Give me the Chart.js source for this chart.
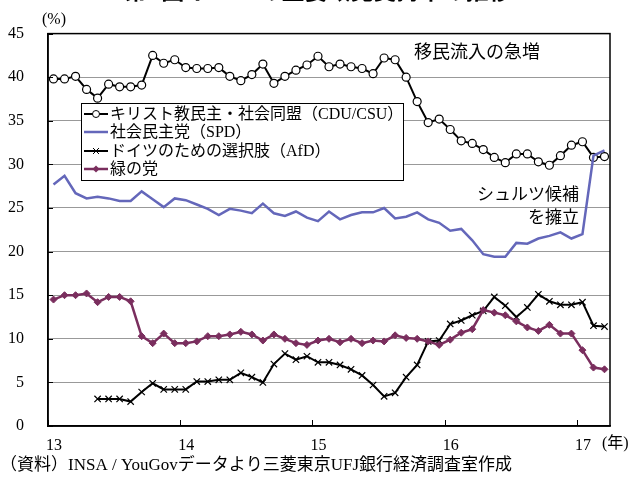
<!DOCTYPE html>
<html>
<head>
<meta charset="utf-8">
<script src="https://cdn.jsdelivr.net/npm/chart.js@4.4.1/dist/chart.umd.min.js"></script>
<style>
  html, body { margin: 0; padding: 0; background: #fff; }
  #wrap { width: 633px; height: 479px; }
</style>
</head>
<body>
<div id="wrap"><canvas id="chart" width="633" height="479"></canvas></div>
<script>
// monthly polls, Jan 2013 .. Mar 2017
var seriesNames = ['キリスト教民主・社会同盟（CDU/CSU）', '社会民主党（SPD）', 'ドイツのための選択肢（AfD）', '緑の党'];

var cdu = [39.8, 39.8, 40.1, 38.6, 37.6, 39.2, 38.9, 38.9, 39.1, 42.5, 41.6, 42.0,
           41.1, 41.0, 41.0, 41.1, 40.1, 39.6, 40.3, 41.5, 39.3, 40.1, 40.8, 41.4,
           42.4, 41.2, 41.5, 41.2, 41.0, 40.4, 42.2, 42.0, 40.0, 37.2, 34.8, 35.2,
           34.0, 32.7, 32.4, 31.7, 30.8, 30.2, 31.2, 31.2, 30.3, 29.9, 31.0, 32.2,
           32.6, 30.8, 30.9];
var spd = [27.7, 28.7, 26.7, 26.1, 26.3, 26.1, 25.8, 25.8, 26.9, 26.0, 25.1, 26.1,
           25.9, 25.4, 24.9, 24.2, 24.9, 24.7, 24.4, 25.5, 24.4, 24.1, 24.6, 23.9,
           23.5, 24.6, 23.7, 24.2, 24.5, 24.5, 25.0, 23.8, 24.0, 24.5, 23.7, 23.3,
           22.4, 22.6, 21.3, 19.7, 19.4, 19.4, 21.0, 20.9, 21.5, 21.8, 22.2, 21.5,
           22.0, 31.0, 31.6];
var afd = [null, null, null, null, 3.1, 3.1, 3.1, 2.8, 3.9, 4.9, 4.2, 4.2,
           4.2, 5.1, 5.1, 5.3, 5.3, 6.1, 5.6, 5.0, 7.1, 8.3, 7.6, 8.0,
           7.3, 7.3, 7.0, 6.5, 5.8, 4.7, 3.4, 3.8, 5.6, 7.0, 9.7, 9.8,
           11.7, 12.1, 12.7, 13.2, 14.8, 13.8, 12.5, 13.6, 15.1, 14.3, 13.9, 13.9,
           14.2, 11.5, 11.4];
var greens = [14.5, 15.0, 15.0, 15.2, 14.2, 14.8, 14.8, 14.3, 10.3, 9.5, 10.6, 9.5,
              9.5, 9.7, 10.3, 10.3, 10.5, 10.8, 10.5, 9.8, 10.5, 10.0, 9.5, 9.3,
              9.8, 10.0, 9.6, 10.0, 9.5, 9.8, 9.7, 10.4, 10.1, 10.0, 9.7, 9.3,
              9.9, 10.7, 11.1, 13.3, 13.0, 12.7, 12.0, 11.3, 10.9, 11.6, 10.6, 10.6,
              8.7, 6.7, 6.5];

var yearTicks = [0, 12, 24, 36, 48];      // month index of each January
var yearLabels = ['13', '14', '15', '16', '17'];

// each poll sits in the middle of its month
function pts(arr) {
  return arr.map(function (v, i) { return { x: i + 0.5, y: v }; });
}

var serif = "'Liberation Serif', 'Noto Sans CJK JP', serif";
var gothic = "'Noto Sans CJK JP', sans-serif";

var colCdu = '#000000', colSpd = '#6467BA', colAfd = '#000000', colGreen = '#7A2E5E';

var decor = {
  id: 'decor',
  afterDraw: function (chart) {
    var c = chart.ctx, a = chart.chartArea;
    var xs = chart.scales.x, ys = chart.scales.y;
    c.save();
    c.setLineDash([]);

    // frame
    c.strokeStyle = '#000';
    c.lineWidth = 1.5;
    c.strokeRect(a.left, a.top, a.right - a.left, a.bottom - a.top);

    // inward tick marks
    c.lineWidth = 1;
    yearTicks.forEach(function (t) {
      var px = Math.round(xs.getPixelForValue(t)) + 0.5;
      c.beginPath(); c.moveTo(px, a.bottom); c.lineTo(px, a.bottom - 6); c.stroke();
    });
    ys.ticks.forEach(function (t) {
      var py = Math.round(ys.getPixelForValue(t.value)) + 0.5;
      c.beginPath(); c.moveTo(a.left, py); c.lineTo(a.left + 5, py); c.stroke();
    });

    // title (cut off at the top of the picture)
    c.fillStyle = '#000';
    c.font = 'bold 23px ' + gothic;
    c.textAlign = 'center';
    c.textBaseline = 'alphabetic';
    c.fillText('第5図 ドイツの主要政党支持率の推移', 318, -1);

    // units
    c.font = '16px ' + serif;
    c.textAlign = 'left';
    c.textBaseline = 'middle';
    c.fillText('(%)', 42, 20);
    c.fillText('(年)', 602, 444);

    // source
    c.font = '17px ' + serif;
    c.fillText('（資料）INSA / YouGovデータより三菱東京UFJ銀行経済調査室作成', 0, 466);

    // annotations
    c.font = '18px ' + gothic;
    c.fillText('移民流入の急増', 414, 51);
    c.font = '17px ' + gothic;
    c.textAlign = 'right';
    c.fillText('シュルツ候補', 579, 194);
    c.fillText('を擁立', 579, 217);

    // legend box
    var bx = 81, by = 103, bw = 322, bh = 77;
    c.fillStyle = '#fff';
    c.fillRect(bx, by, bw, bh);
    c.strokeStyle = '#000';
    c.lineWidth = 1;
    c.strokeRect(bx + 0.5, by + 0.5, bw, bh);
    var rows = [114, 132, 151, 169];
    var styles = [
      { col: colCdu, w: 2, mark: 'circle' },
      { col: colSpd, w: 2.5, mark: null },
      { col: colAfd, w: 2, mark: 'cross' },
      { col: colGreen, w: 2.5, mark: 'diamond' }
    ];
    rows.forEach(function (ry, i) {
      var s = styles[i];
      c.strokeStyle = s.col;
      c.lineWidth = s.w;
      c.beginPath(); c.moveTo(84, ry); c.lineTo(108, ry); c.stroke();
      c.lineWidth = 1;
      if (s.mark === 'circle') {
        c.fillStyle = '#fff';
        c.beginPath(); c.arc(96, ry, 3.5, 0, Math.PI * 2); c.fill(); c.stroke();
      } else if (s.mark === 'cross') {
        c.beginPath();
        c.moveTo(93, ry - 3); c.lineTo(99, ry + 3);
        c.moveTo(99, ry - 3); c.lineTo(93, ry + 3);
        c.stroke();
      } else if (s.mark === 'diamond') {
        c.fillStyle = s.col;
        c.beginPath();
        c.moveTo(96, ry - 3.5); c.lineTo(99.5, ry); c.lineTo(96, ry + 3.5); c.lineTo(92.5, ry);
        c.closePath(); c.fill();
      }
      c.fillStyle = '#000';
      c.font = '16px ' + serif;
      c.textAlign = 'left';
      c.textBaseline = 'middle';
      c.fillText(seriesNames[i], 110, ry + 1);
    });

    c.restore();
  }
};

new Chart(document.getElementById('chart'), {
  type: 'line',
  data: {
    datasets: [
      {
        label: seriesNames[1], data: pts(spd),
        borderColor: colSpd, borderWidth: 2.5, pointRadius: 0
      },
      {
        label: seriesNames[3], data: pts(greens),
        borderColor: colGreen, borderWidth: 2.5,
        pointStyle: 'rectRot', pointRadius: 3.5,
        pointBackgroundColor: colGreen, pointBorderColor: colGreen, pointBorderWidth: 1
      },
      {
        label: seriesNames[2], data: pts(afd),
        borderColor: colAfd, borderWidth: 2,
        pointStyle: 'crossRot', pointRadius: 4.5,
        pointBorderColor: colAfd, pointBorderWidth: 1.2
      },
      {
        label: seriesNames[0], data: pts(cdu),
        borderColor: colCdu, borderWidth: 2,
        pointStyle: 'circle', pointRadius: 4,
        pointBackgroundColor: '#fff', pointBorderColor: '#000', pointBorderWidth: 1.2
      }
    ]
  },
  options: {
    responsive: false,
    animation: false,
    layout: { padding: { top: 30, right: 23, left: 0, bottom: 0 } },
    plugins: {
      legend: { display: false },
      tooltip: { enabled: false }
    },
    elements: { line: { tension: 0 } },
    scales: {
      x: {
        type: 'linear',
        min: 0,
        max: 51,
        afterBuildTicks: function (s) {
          s.ticks = yearTicks.map(function (v) { return { value: v }; });
        },
        afterFit: function (s) { s.height = 53; },
        grid: { display: false, drawTicks: false },
        border: { display: true, color: '#000', width: 1.5 },
        ticks: {
          padding: 10,
          labelOffset: 6,
          maxRotation: 0,
          color: '#000',
          font: { family: serif, size: 16 },
          callback: function (v) {
            var i = yearTicks.indexOf(v);
            return i >= 0 ? yearLabels[i] : '';
          }
        }
      },
      y: {
        min: 0,
        max: 45,
        afterFit: function (s) { s.width = 48; },
        grid: {
          color: '#333',
          lineWidth: 1,
          drawTicks: false
        },
        // in v4 the dash for grid lines is taken from border.dash
        border: { display: true, color: '#000', width: 1.5, dash: [1, 1] },
        ticks: {
          stepSize: 5,
          padding: 24,
          color: '#000',
          font: { family: serif, size: 16 }
        }
      }
    }
  },
  plugins: [decor]
});
</script>
</body>
</html>
